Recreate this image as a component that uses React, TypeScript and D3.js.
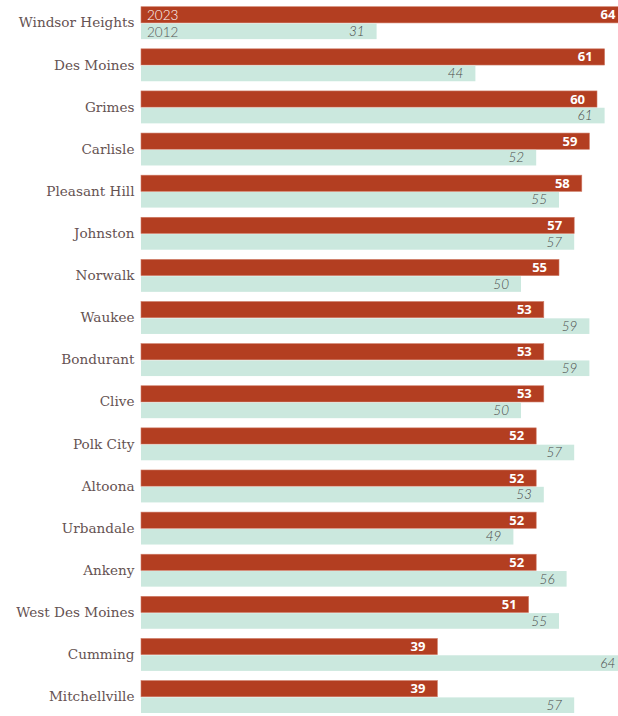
import React from "react";
import * as d3 from "d3";

const cities = [
  "Windsor Heights", "Des Moines", "Grimes", "Carlisle", "Pleasant Hill", "Johnston",
  "Norwalk", "Waukee", "Bondurant", "Clive", "Polk City", "Altoona", "Urbandale",
  "Ankeny", "West Des Moines", "Cumming", "Mitchellville",
];
const values2023 = [64, 61, 60, 59, 58, 57, 55, 53, 53, 53, 52, 52, 52, 52, 51, 39, 39];
const values2012 = [31, 44, 61, 52, 55, 57, 50, 59, 59, 50, 57, 53, 49, 56, 55, 64, 57];
const seriesNames = ["2023", "2012"];

const W = 618;
const H = 716;
const RED = "#b33e21";
const GREEN = "#cbe8de";

export default function App() {
  const x = d3.scaleLinear().domain([0, 64]).range([141, 627.4]);
  const y = d3.scaleBand<string>().domain(cities).range([6.7, 713]).paddingInner(0.23).paddingOuter(0);
  const bw = y.bandwidth();
  const half = bw / 2;
  return (
    <svg width={W} height={H} style={{ position: "absolute", left: 0, top: 0, overflow: "hidden" }}>
      {cities.map((c, i) => {
        const y0 = y(c)!;
        const v1 = values2023[i];
        const v2 = values2012[i];
        return (
          <g key={c}>
            <text
              x={134.5}
              y={y0 + bw / 2 + 4.5}
              textAnchor="end"
              fontFamily="DejaVu Serif"
              fontSize={13.6}
              fill="#655252"
            >
              {c}
            </text>
            <rect x={x(0)} y={y0} width={x(v1) - x(0)} height={half} fill={RED} stroke="#cf7d68" strokeWidth={0.6} />
            <rect x={x(0)} y={y0 + half + 0.6} width={x(v2) - x(0)} height={half - 0.6} fill={GREEN} />
            <text
              x={x(v1) - 12}
              y={y0 + half / 2 + 4.5}
              textAnchor="end"
              fontFamily="Open Sans"
              fontWeight={700}
              fontSize={13}
              fill="#fff"
            >
              {v1}
            </text>
            <text
              x={x(v2) - 12}
              y={y0 + half + half / 2 + 5}
              textAnchor="end"
              fontFamily="Lato"
              fontStyle="italic"
              fontWeight={300}
              fontSize={13.5}
              fill="#4a4a4a"
            >
              {v2}
            </text>
            {i === 0 && (
              <>
                <text x={147} y={y0 + half / 2 + 5} fontFamily="Lato" fontWeight={300} fontSize={13.5} fill="#fff">
                  {seriesNames[0]}
                </text>
                <text x={147} y={y0 + half + half / 2 + 5.5} fontFamily="Lato" fontWeight={300} fontSize={13.5} fill="#555">
                  {seriesNames[1]}
                </text>
              </>
            )}
          </g>
        );
      })}
    </svg>
  );
}
